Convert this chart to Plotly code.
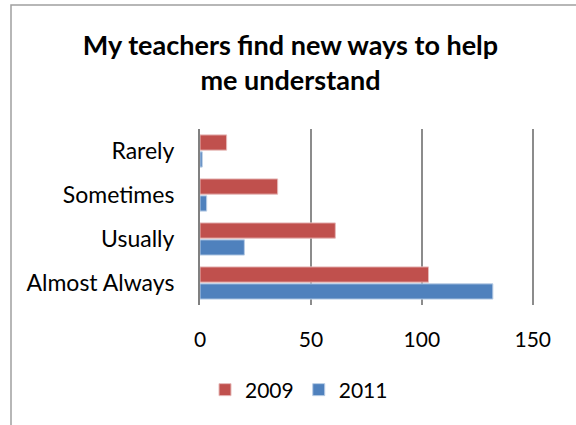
import plotly.graph_objects as go

categories = ["Almost Always", "Usually", "Sometimes", "Rarely"]
values_2009 = [103, 61, 35, 12]
values_2011 = [132, 20, 3, 1]
x_ticks = [0, 50, 100, 150]

FONT = "Lato, Calibri, Carlito, sans-serif"
RED = "#C0504D"
BLUE = "#4F81BD"

fig = go.Figure()
fig.add_trace(go.Bar(
    y=categories, x=values_2011, orientation="h", name="2011",
    marker=dict(color=BLUE, line=dict(color="#B9CDE5", width=1)),
))
fig.add_trace(go.Bar(
    y=categories, x=values_2009, orientation="h", name="2009",
    marker=dict(color=RED, line=dict(color="#E6B9B8", width=1)),
))

W, H = 576, 425
L, T, B = 200, 129, 120
XMAX = 151
pw = round(333 * XMAX / 150)
R = W - L - pw
ph = H - T - B

def px_x(x):
    return (x - L) / pw

def px_y(y):
    return (H - B - y) / ph

fig.update_layout(
    width=W, height=H,
    margin=dict(l=L, r=R, t=T, b=B, pad=0, autoexpand=False),
    paper_bgcolor="white", plot_bgcolor="white",
    barmode="group", bargap=0.23, bargroupgap=0.1,
    font=dict(family=FONT, color="black", size=20),
    title=dict(
        text="<b>My teachers find new ways to help<br>me understand</b>",
        x=290.5 / W, xanchor="center",
        y=1 - 55 / H, yanchor="middle",
        font=dict(family=FONT, size=27, color="black"),
    ),
    xaxis=dict(
        range=[0, XMAX], tickvals=x_ticks, ticktext=[str(v) for v in x_ticks],
        showgrid=True, gridcolor="#8c8c8c", gridwidth=2,
        zeroline=False, ticks="", ticklabelstandoff=20,
        tickfont=dict(size=21, family=FONT),
        automargin=False, fixedrange=True,
    ),
    yaxis=dict(
        categoryorder="array", categoryarray=categories,
        showline=True, linecolor="#808080", linewidth=2,
        ticks="", ticklabelstandoff=19,
        tickfont=dict(size=23, family=FONT),
        automargin=False, fixedrange=True,
    ),
    legend=dict(
        orientation="h", traceorder="reversed",
        xref="container", yref="container",
        x=299 / W, xanchor="center",
        y=1 - 390 / H, yanchor="middle",
        font=dict(size=21, family=FONT),
        itemwidth=30,
    ),
    shapes=[dict(
        type="rect", xref="paper", yref="paper",
        x0=px_x(11), x1=px_x(620), y0=px_y(5), y1=px_y(460),
        line=dict(color="#a0a0a0", width=1.5), fillcolor="rgba(0,0,0,0)",
        layer="below",
    )],
)

fig.write_html(
    "out.html",
    config={"displayModeBar": False, "staticPlot": True},
    post_script="document.body.style.margin='0px';document.body.style.overflow='hidden';",
)
